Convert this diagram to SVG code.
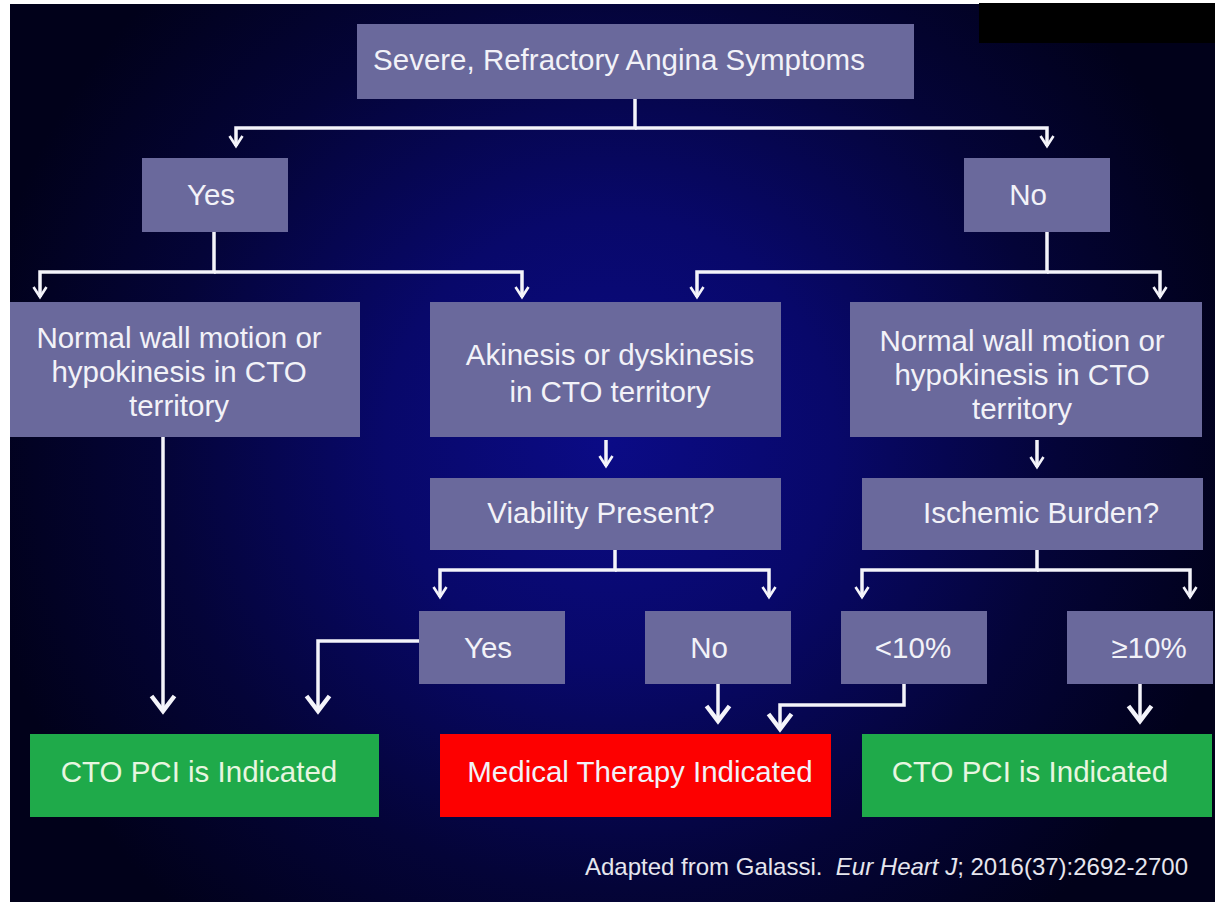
<svg xmlns="http://www.w3.org/2000/svg" width="1215" height="902" viewBox="0 0 1215 902">
<style>
.bx{fill:#6a699c}
.gr{fill:#1faa4a}
.rd{fill:#fd0000}
.t{font-family:"Liberation Sans",Arial,Helvetica,sans-serif;font-size:29.5px;fill:#f2f2f8;text-anchor:middle}
.tg{fill:#e8f6e0}
.c{fill:none;stroke:#f4f4fa;stroke-width:3.5;stroke-linejoin:miter}
.cs{marker-end:url(#aS)}
.cl{marker-end:url(#aL)}
.ft{font-family:"Liberation Sans",Arial,Helvetica,sans-serif;font-size:24px;fill:#e6e6ee}
</style>
<defs>
<radialGradient id="bg" cx="610" cy="440" r="640" gradientUnits="userSpaceOnUse">
<stop offset="0" stop-color="#0b0b86"/>
<stop offset="0.35" stop-color="#08086a"/>
<stop offset="0.7" stop-color="#040438"/>
<stop offset="1" stop-color="#01011a"/>
</radialGradient>
<marker id="aS" markerUnits="userSpaceOnUse" viewBox="-14 -10 18 20" markerWidth="18" markerHeight="20" refX="0" refY="0" orient="auto">
<path d="M-10,-6.5 L0,0 L-10,6.5" fill="none" stroke="#f4f4fa" stroke-width="2.6"/>
</marker>
<marker id="aL" markerUnits="userSpaceOnUse" viewBox="-20 -15 26 30" markerWidth="26" markerHeight="30" refX="0" refY="0" orient="auto">
<path d="M-15,-11.5 L0,0 L-15,11.5" fill="none" stroke="#f4f4fa" stroke-width="4.5"/>
</marker>
</defs>
<rect x="0" y="0" width="1215" height="902" fill="#ffffff"/>
<rect x="10" y="4" width="1205" height="898" fill="url(#bg)"/>
<rect x="979" y="3" width="236" height="40" fill="#000000"/>

<g id="connectors">
<path class="c cs" d="M635,99 V128 H236 V146"/>
<path class="c cs" d="M635,128 H1047 V146"/>
<path class="c cs" d="M214,232 V272 H40 V297"/>
<path class="c cs" d="M214,272 H522 V297"/>
<path class="c cs" d="M1047,232 V272 H697 V297"/>
<path class="c cs" d="M1047,272 H1160 V297"/>
<path class="c cs" d="M606,440 V466"/>
<path class="c cs" d="M1037,440 V467"/>
<path class="c cs" d="M615,550 V570 H440 V597"/>
<path class="c cs" d="M615,570 H769 V597"/>
<path class="c cs" d="M1037,550 V570 H862 V597"/>
<path class="c cs" d="M1037,570 H1190 V597"/>
<path class="c cl" d="M163,437 V711"/>
<path class="c cl" d="M419,641 H318 V711"/>
<path class="c cl" d="M718,684 V721"/>
<path class="c cl" d="M904,684 V705 H780 V729"/>
<path class="c cl" d="M1140,684 V721"/>
</g>

<g id="n-severe">
<rect class="bx" x="357" y="24" width="557" height="75"/>
<text class="t" x="619" y="70">Severe, Refractory Angina Symptoms</text>
</g>
<g id="n-yes1">
<rect class="bx" x="142" y="158" width="146" height="74"/>
<text class="t" x="211" y="205">Yes</text>
</g>
<g id="n-no1">
<rect class="bx" x="964" y="158" width="146" height="74"/>
<text class="t" x="1028" y="205">No</text>
</g>
<g id="n-normal-left">
<rect class="bx" x="10" y="302" width="350" height="135"/>
<text class="t" x="179" y="348">Normal wall motion or</text>
<text class="t" x="179" y="382">hypokinesis in CTO</text>
<text class="t" x="179" y="416">territory</text>
</g>
<g id="n-akinesis">
<rect class="bx" x="430" y="302" width="351" height="135"/>
<text class="t" x="610" y="365">Akinesis or dyskinesis</text>
<text class="t" x="610" y="402">in CTO territory</text>
</g>
<g id="n-normal-right">
<rect class="bx" x="850" y="302" width="352" height="135"/>
<text class="t" x="1022" y="351">Normal wall motion or</text>
<text class="t" x="1022" y="385">hypokinesis in CTO</text>
<text class="t" x="1022" y="419">territory</text>
</g>
<g id="n-viability">
<rect class="bx" x="430" y="478" width="351" height="72"/>
<text class="t" x="601" y="523">Viability Present?</text>
</g>
<g id="n-ischemic">
<rect class="bx" x="862" y="478" width="341" height="72"/>
<text class="t" x="1041" y="523">Ischemic Burden?</text>
</g>
<g id="n-yes2">
<rect class="bx" x="419" y="611" width="146" height="73"/>
<text class="t" x="488" y="658">Yes</text>
</g>
<g id="n-no2">
<rect class="bx" x="645" y="611" width="146" height="73"/>
<text class="t" x="709" y="658">No</text>
</g>
<g id="n-lt10">
<rect class="bx" x="841" y="611" width="146" height="73"/>
<text class="t" x="913" y="658">&lt;10%</text>
</g>
<g id="n-ge10">
<rect class="bx" x="1067" y="611" width="146" height="73"/>
<text class="t" x="1149" y="658">≥10%</text>
</g>
<g id="n-pci-left">
<rect class="gr" x="30" y="734" width="349" height="83"/>
<text class="t tg" x="199" y="782">CTO PCI is Indicated</text>
</g>
<g id="n-medical">
<rect class="rd" x="440" y="734" width="391" height="83"/>
<text class="t" x="640" y="782">Medical Therapy Indicated</text>
</g>
<g id="n-pci-right">
<rect class="gr" x="862" y="734" width="350" height="83"/>
<text class="t tg" x="1030" y="782">CTO PCI is Indicated</text>
</g>
<g id="footer">
<text class="ft" x="585" y="875" xml:space="preserve">Adapted from Galassi.  <tspan font-style="italic">Eur Heart J</tspan>; 2016(37):2692-2700</text>
</g>
</svg>
